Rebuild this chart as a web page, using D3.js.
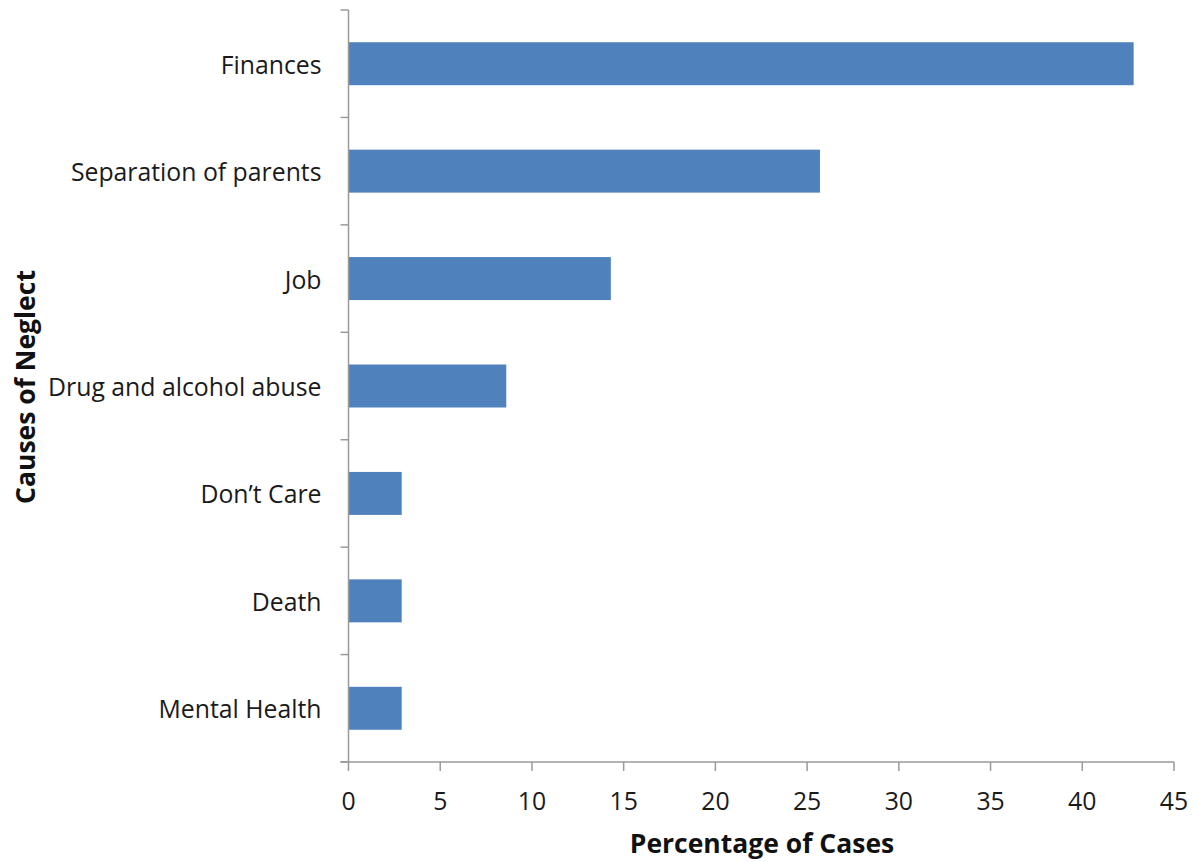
<!DOCTYPE html>
<html><head><meta charset="utf-8">
<script src="https://cdn.jsdelivr.net/npm/d3@7"></script>
<style>body{margin:0;background:#fff;} svg{display:block;}</style>
</head><body>
<svg id="c" width="1199" height="862"></svg>
<script>
const categories = ["Finances","Separation of parents","Job","Drug and alcohol abuse","Don\u2019t Care","Death","Mental Health"];
const values = [42.8, 25.7, 14.3, 8.6, 2.9, 2.9, 2.9];
const xTicks = [0,5,10,15,20,25,30,35,40,45];
const xTitle = "Percentage of Cases";
const yTitle = "Causes of Neglect";

const svg = d3.select("#c");
const m = {left:348.5, right:1174, top:10, bottom:762};
const font = "'Open Sans', sans-serif";
const x = d3.scaleLinear().domain([0,45]).range([m.left, m.right]);
const y = d3.scaleBand().domain(categories).range([m.top, m.bottom]).paddingInner(0.6).paddingOuter(0.3);
const yEdge = d3.scaleLinear().domain([0, categories.length]).range([m.top, m.bottom]);

svg.selectAll("rect.bar").data(values).join("rect")
  .attr("x", x(0)).attr("y", (d,i)=>y(categories[i]))
  .attr("width", d=>x(d)-x(0)).attr("height", y.bandwidth())
  .attr("fill", "#4F81BD");

const axisColor = "#9a9a9a";
svg.append("line").attr("x1",m.left).attr("x2",m.left).attr("y1",m.top).attr("y2",m.bottom)
  .attr("stroke",axisColor).attr("stroke-width",1.5);
svg.selectAll("line.yt").data(d3.range(categories.length+1)).join("line")
  .attr("x1",m.left-8).attr("x2",m.left).attr("y1",d=>yEdge(d)).attr("y2",d=>yEdge(d))
  .attr("stroke",axisColor).attr("stroke-width",1.5);
svg.selectAll("text.yl").data(categories).join("text")
  .attr("x", m.left-27).attr("y", d=>y(d)+y.bandwidth()/2)
  .attr("text-anchor","end").attr("dominant-baseline","central")
  .attr("font-family",font).attr("font-size",24.8).attr("fill","#1a1a1a").text(d=>d);
svg.append("line").attr("x1",m.left-8).attr("x2",m.right).attr("y1",m.bottom).attr("y2",m.bottom)
  .attr("stroke",axisColor).attr("stroke-width",1.5);
svg.selectAll("line.xt").data(xTicks).join("line")
  .attr("x1",d=>x(d)).attr("x2",d=>x(d)).attr("y1",m.bottom).attr("y2",m.bottom+9)
  .attr("stroke",axisColor).attr("stroke-width",1.5);
svg.selectAll("text.xl").data(xTicks).join("text")
  .attr("x", d=>x(d)).attr("y", 800)
  .attr("text-anchor","middle").attr("dominant-baseline","central")
  .attr("font-family",font).attr("font-size",24.8).attr("fill","#1a1a1a").text(d=>d);
svg.append("text").attr("x",762).attr("y",853).attr("text-anchor","middle")
  .attr("font-family",font).attr("font-weight","bold").attr("font-size",26.5).attr("fill","#111").text(xTitle);
svg.append("text").attr("transform","translate(35,387) rotate(-90)").attr("text-anchor","middle")
  .attr("font-family",font).attr("font-weight","bold").attr("font-size",26.5).attr("fill","#111").text(yTitle);
</script>
</body></html>
